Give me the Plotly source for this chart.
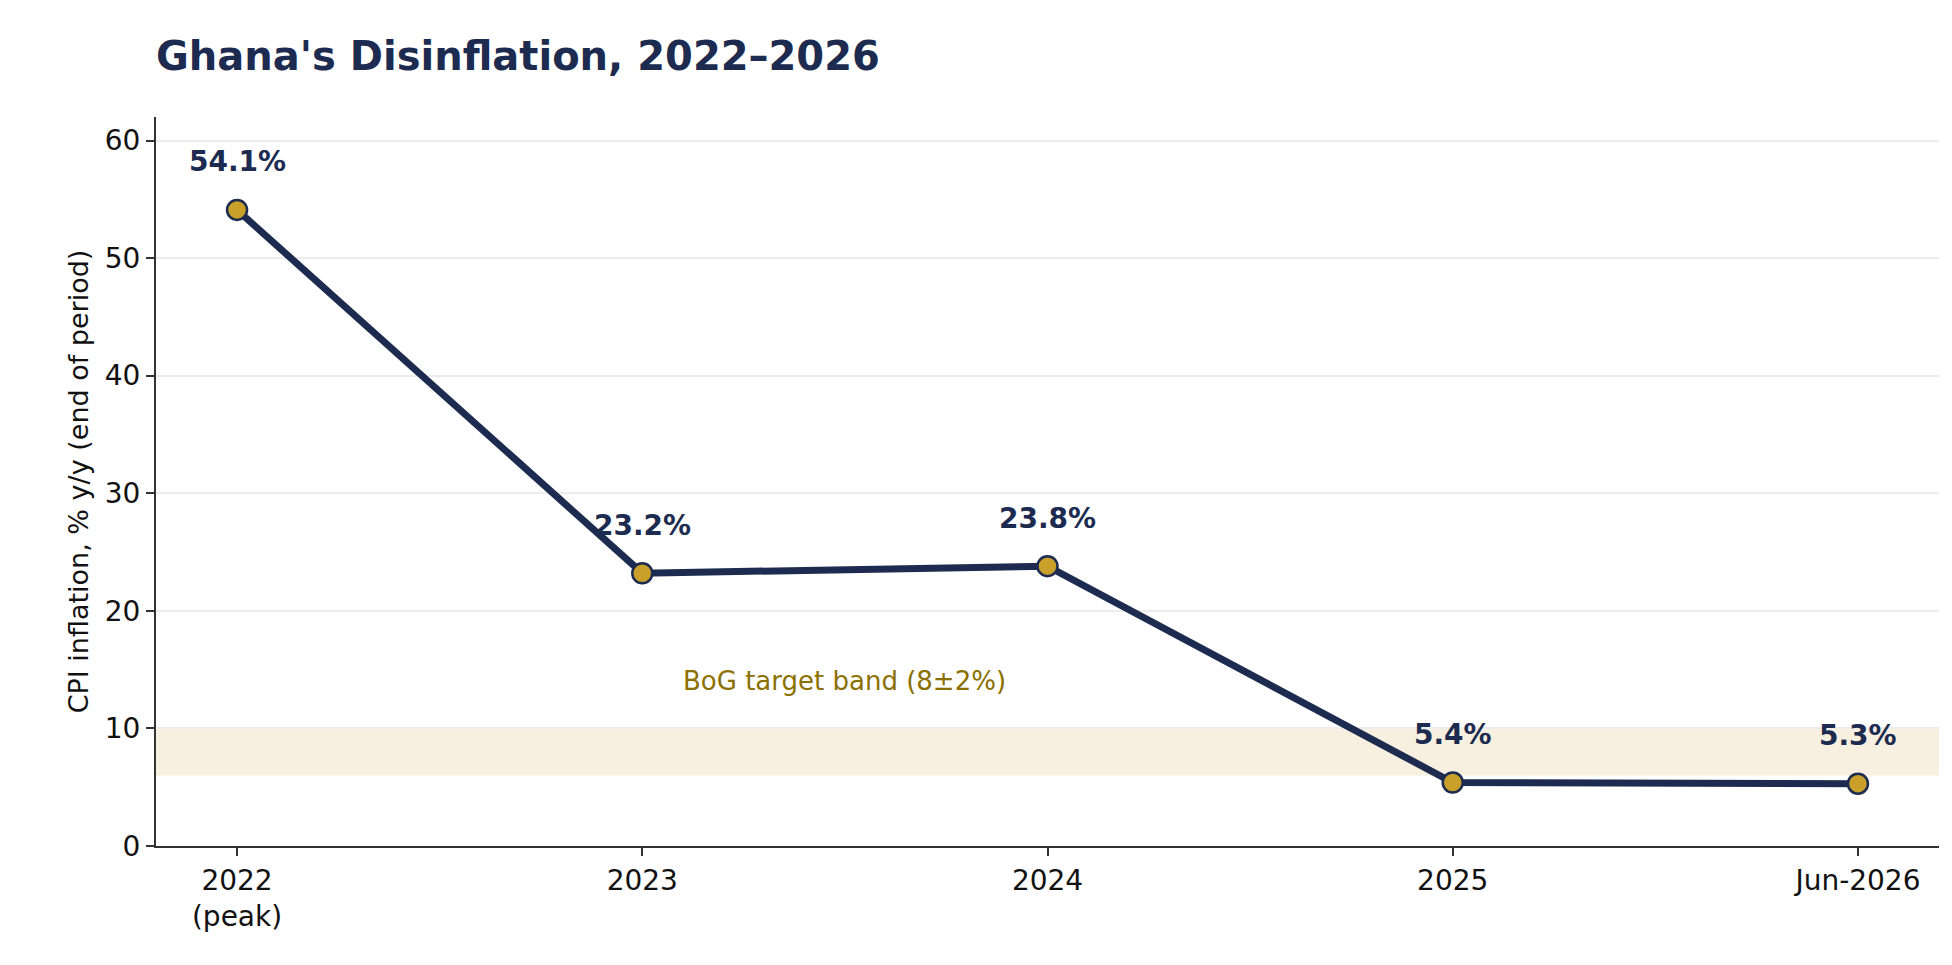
import plotly.graph_objects as go

periods = ["2022<br>(peak)", "2023", "2024", "2025", "Jun-2026"]
inflation = [54.1, 23.2, 23.8, 5.4, 5.3]
labels = ["54.1%", "23.2%", "23.8%", "5.4%", "5.3%"]
band_low, band_high = 6, 10

navy = "#1c2b4f"
gold = "#c9a02a"

x = list(range(len(periods)))
fig = go.Figure()
fig.add_shape(type="rect", xref="paper", x0=0, x1=1, y0=band_low, y1=band_high,
              fillcolor="#f7f0e0", line=dict(width=0), layer="below")
fig.add_trace(go.Scatter(x=x, y=inflation, mode="lines+markers",
                         line=dict(color=navy, width=7),
                         marker=dict(size=20, color=gold, line=dict(color=navy, width=2.5)),
                         showlegend=False, hoverinfo="skip"))
for xi, yi, t in zip(x, inflation, labels):
    fig.add_annotation(x=xi, y=yi, text="<b>%s</b>" % t, showarrow=False,
                       yshift=48, font=dict(size=28, color=navy))
fig.add_annotation(x=1.5, y=14, text="BoG target band (8±2%)", showarrow=False,
                   font=dict(size=26, color="#8b7000"))

fig.update_layout(
    width=1952, height=965, plot_bgcolor="white", paper_bgcolor="white",
    font=dict(family="DejaVu Sans", size=28, color="#111"),
    margin=dict(l=148, r=21, t=109, b=127),
    title=dict(text="<b>Ghana's Disinflation, 2022–2026</b>", x=148/1952, xanchor="left",
               y=1 - 48/965, yanchor="middle", font=dict(size=40, color=navy)),
    xaxis=dict(range=[-0.2, 4.2], tickvals=x, ticktext=periods, showgrid=False,
               zeroline=False, showline=True, linecolor="#333", linewidth=2,
               ticks="outside", ticklen=8, tickwidth=2, tickcolor="#333"),
    yaxis=dict(range=[0, 62], tickvals=[0, 10, 20, 30, 40, 50, 60], showgrid=True,
               gridcolor="#ececec", gridwidth=2, zeroline=False, showline=True,
               linecolor="#333", linewidth=2, ticks="outside", ticklen=8, tickwidth=2,
               tickcolor="#333", title=dict(text="CPI inflation, % y/y (end of period)",
                                             font=dict(size=27), standoff=8)),
)
fig.write_html("out.html")
